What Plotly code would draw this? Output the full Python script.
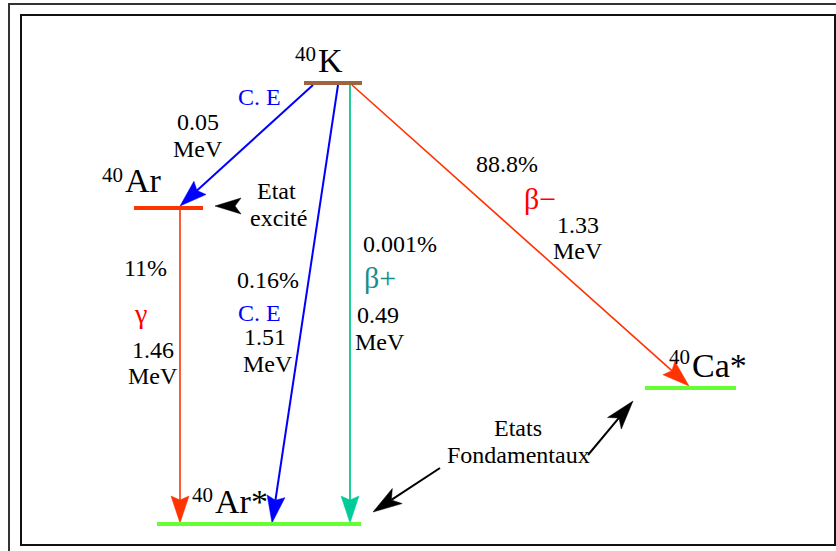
import math
import plotly.graph_objects as go

# ---------------- data ----------------
mass_number = "40"
nuclide_symbols = ["K", "Ar", "Ar*", "Ca*"]
decay_modes = ["C. E", "γ", "C. E", "β+", "β−"]
branching_ratios = ["", "11%", "0.16%", "0.001%", "88.8%"]
energies_mev = ["0.05", "1.46", "1.51", "0.49", "1.33"]
energy_unit = "MeV"
state_notes = ["Etat", "excité", "Etats", "Fondamentaux"]

# ---------------- layout (positions / styles) ----------------
W, H = 836, 551
SERIF = "Liberation Serif, Times New Roman, serif"
BLUE = "#0000ff"
ORANGE = "#ff3300"
TEAL_LINE = "#22cc99"
TEAL_HEAD = "#00cc99"
TEAL_TEXT = "#1a8c8c"
GREEN = "#66ff33"
BROWN = "#a0643c"

# level bars: x0, x1, y, color
level_pos = [
    (304, 362, 83, BROWN),    # 40K
    (134, 203, 208, ORANGE),  # 40Ar excited
    (157, 361, 524, GREEN),   # 40Ar* ground
    (645, 736, 388, GREEN),   # 40Ca*
]
# nuclide labels: (split x, superscript centre y, symbol centre y)
label_pos = [(317, 54, 60), (124, 175, 180), (214, 495, 501), (691, 357, 365)]

# transitions: tail, tip, line colour, head colour, line width
trans_pos = [
    ((313, 85), (180, 206), BLUE, BLUE, 2),
    ((180, 210), (180, 523), ORANGE, ORANGE, 1.6),
    ((338, 85), (272, 523), BLUE, BLUE, 2),
    ((350, 85), (350, 523), TEAL_LINE, TEAL_HEAD, 2),
    ((352, 85), (689, 386), ORANGE, ORANGE, 1.6),
]
mode_pos = [(259, 97), (140, 313), (259, 313), (380, 277), (540, 198)]
mode_col = [BLUE, "#ff0000", BLUE, TEAL_TEXT, "#ff0000"]
mode_size = [24, 28, 24, 30, 30]
ratio_pos = [None, (145, 268), (268, 280), (400, 244), (507, 164)]
energy_pos = [(198, 122), (153, 350), (265, 337), (378, 315), (578, 225)]
unit_pos = [(198, 149), (153, 376), (268, 364), (380, 342), (578, 251)]

note_pos = [(276, 191), (278, 218), (518, 428), (518, 455)]
note_arrows = [
    ((241, 206), (215, 206)),
    ((440, 468), (373, 512)),
    ((588, 455), (633, 401)),
]

fig = go.Figure()
fig.add_trace(go.Scatter(x=[0], y=[0], mode="markers", marker=dict(opacity=0),
                         hoverinfo="skip", showlegend=False))

shapes = []
annos = []


def head_path(tail, tip, length, half, notch):
    dx, dy = tip[0] - tail[0], tip[1] - tail[1]
    d = math.hypot(dx, dy)
    ux, uy = dx / d, dy / d
    vx, vy = -uy, ux
    bx, by = tip[0] - length * ux, tip[1] - length * uy
    nx, ny = tip[0] - (length - notch) * ux, tip[1] - (length - notch) * uy
    pts = [tip, (bx + half * vx, by + half * vy), (nx, ny), (bx - half * vx, by - half * vy)]
    return "M " + " L ".join(f"{px:.2f},{py:.2f}" for px, py in pts) + " Z", (nx, ny)


# frames
shapes.append(dict(type="rect", xref="x", yref="y", x0=9, y0=4, x1=W + 20, y1=H + 20,
                   line=dict(color="#333333", width=2)))
shapes.append(dict(type="rect", xref="x", yref="y", x0=21, y0=15, x1=835, y1=545,
                   line=dict(color="#111111", width=2)))

# transitions
for (tail, tip, lc, hc, lw) in trans_pos:
    path, notch_pt = head_path(tail, tip, 27, 9, 4)
    shapes.append(dict(type="line", xref="x", yref="y", x0=tail[0], y0=tail[1],
                       x1=notch_pt[0], y1=notch_pt[1], line=dict(color=lc, width=lw)))
    shapes.append(dict(type="path", xref="x", yref="y", path=path, fillcolor=hc,
                       line=dict(color=hc, width=0.5)))

# levels
for (x0, x1, y, c) in level_pos:
    shapes.append(dict(type="line", xref="x", yref="y", x0=x0, y0=y, x1=x1, y1=y,
                       line=dict(color=c, width=4)))

# note arrows
for i, (tail, tip) in enumerate(note_arrows):
    if i == 0:
        path, notch_pt = head_path(tail, tip, 26, 8, 6)
    else:
        path, notch_pt = head_path(tail, tip, 29, 9, 7)
        shapes.append(dict(type="line", xref="x", yref="y", x0=tail[0], y0=tail[1],
                           x1=notch_pt[0], y1=notch_pt[1], line=dict(color="black", width=2)))
    shapes.append(dict(type="path", xref="x", yref="y", path=path, fillcolor="black",
                       line=dict(color="black", width=0.5)))


def txt(x, y, s, size=24, color="black", xanchor="center"):
    annos.append(dict(x=x, y=y, xref="x", yref="y", text=s, showarrow=False,
                      xanchor=xanchor, yanchor="middle", borderpad=0,
                      font=dict(family=SERIF, size=size, color=color)))


for sym, (xs, ys, yl) in zip(nuclide_symbols, label_pos):
    txt(xs, ys, mass_number, size=21, xanchor="right")
    txt(xs, yl, sym, size=34, xanchor="left")

for i in range(len(decay_modes)):
    mx, my = mode_pos[i]
    txt(mx, my, decay_modes[i], size=mode_size[i], color=mode_col[i])
    if ratio_pos[i] is not None and branching_ratios[i]:
        txt(ratio_pos[i][0], ratio_pos[i][1], branching_ratios[i])
    txt(energy_pos[i][0], energy_pos[i][1], energies_mev[i])
    txt(unit_pos[i][0], unit_pos[i][1], energy_unit)

for s, (x, y) in zip(state_notes, note_pos):
    txt(x, y, s)

fig.update_layout(
    width=W, height=H,
    margin=dict(l=0, r=0, t=0, b=0),
    paper_bgcolor="white", plot_bgcolor="white",
    xaxis=dict(range=[0, W], visible=False, fixedrange=True),
    yaxis=dict(range=[H, 0], visible=False, fixedrange=True),
    shapes=shapes, annotations=annos,
    showlegend=False,
)

fig.write_html("out.html", config={"displayModeBar": False},
               post_script="document.body.style.margin='0';document.body.style.overflow='hidden';")
